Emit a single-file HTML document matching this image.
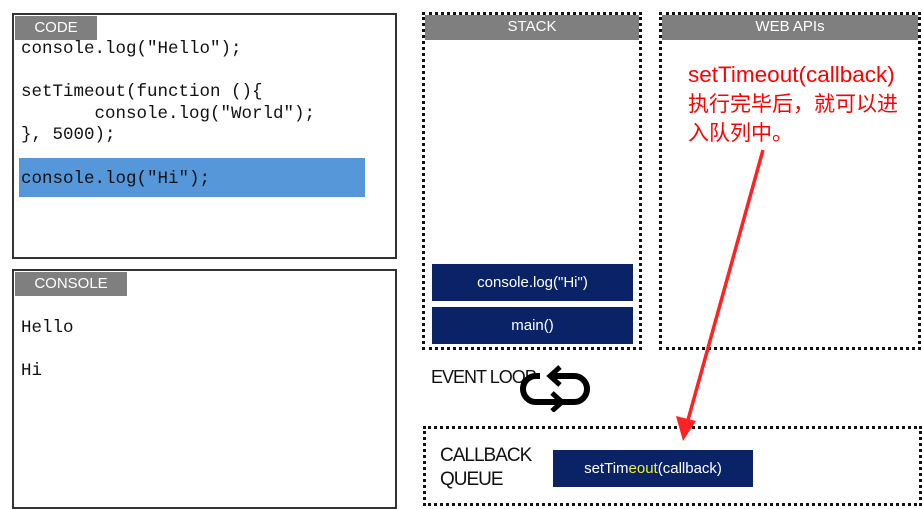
<!DOCTYPE html>
<html><head><meta charset="utf-8"><style>
body{margin:0;width:922px;height:494px;background:#fff;position:relative;overflow:hidden;font-family:"Liberation Sans","Noto Sans CJK SC",sans-serif}
.a{position:absolute;box-sizing:border-box}
.solid{border:2px solid #333}
.dot{border:3px dotted #111}
.hd{background:#7f7f7f;color:#fff;font-size:15px;text-align:center;line-height:24px}
.mono{font-family:"Liberation Mono",monospace;font-size:17.5px;color:#111;white-space:pre;position:absolute;line-height:20px}
.nv{background:#0a2366;color:#fff;font-size:15px;text-align:center}
</style></head><body>
<div class="a solid" style="left:12px;top:13px;width:385px;height:246px"></div>
<div class="a hd" style="left:15px;top:16px;width:82px;height:24px">CODE</div>
<div class="a" style="left:19px;top:158px;width:346px;height:39px;background:#5597d8"></div>
<div class="mono" style="left:21px;top:39px">console.log("Hello");</div>
<div class="mono" style="left:21px;top:82px">setTimeout(function (){</div>
<div class="mono" style="left:21px;top:104px">       console.log("World");</div>
<div class="mono" style="left:21px;top:125px">}, 5000);</div>
<div class="mono" style="left:21px;top:169px">console.log("Hi");</div>

<div class="a solid" style="left:12px;top:269px;width:385px;height:240px"></div>
<div class="a hd" style="left:15px;top:272px;width:112px;height:24px">CONSOLE</div>
<div class="mono" style="left:21px;top:318px">Hello</div>
<div class="mono" style="left:21px;top:361px">Hi</div>

<div class="a dot" style="left:422px;top:12px;width:220px;height:338px"></div>
<div class="a hd" style="left:425px;top:15px;width:214px;height:25px">STACK</div>
<div class="a nv" style="left:432px;top:264px;width:201px;height:37px;line-height:37px">console.log("Hi")</div>
<div class="a nv" style="left:432px;top:307px;width:201px;height:37px;line-height:37px">main()</div>

<div class="a dot" style="left:659px;top:12px;width:262px;height:338px"></div>
<div class="a hd" style="left:662px;top:15px;width:256px;height:25px">WEB APIs</div>
<div class="a" style="left:688px;top:60px;color:#f00;font-size:21px;line-height:29px;width:230px;white-space:nowrap"><span style="font-size:22.5px">setTimeout(callback)</span><br>执行完毕后，就可以进<br>入队列中。</div>

<div class="a" style="left:431px;top:367px;font-size:18px;color:#111;letter-spacing:-1px">EVENT LOOP</div>
<svg class="a" style="left:516px;top:364px" width="80" height="48" viewBox="0 0 80 48">
<path d="M34 12 H58 A13 13 0 0 1 58 38 H46" fill="none" stroke="#000" stroke-width="6"/>
<path d="M42 38 H20 A13 13 0 0 1 20 12 H24" fill="none" stroke="#000" stroke-width="6"/>
<path d="M44 3 L34 12 L44 21" fill="none" stroke="#000" stroke-width="5"/>
<path d="M36 29 L46 38 L36 47" fill="none" stroke="#000" stroke-width="5"/>
</svg>

<div class="a dot" style="left:423px;top:426px;width:499px;height:80px"></div>
<div class="a" style="left:440px;top:444px;font-size:19px;line-height:24px;color:#111;letter-spacing:-1px">CALLBACK<br>QUEUE</div>
<div class="a nv" style="left:553px;top:450px;width:200px;height:37px;line-height:37px">setTim<span style="color:#ee3">eout</span>(callback)</div>

<svg class="a" style="left:0;top:0" width="922" height="494">
<line x1="763" y1="150" x2="688" y2="420" stroke="#f22" stroke-width="3.5"/>
<polygon points="676,416 696,421 683,441" fill="#f22"/>
</svg>
</body></html>
